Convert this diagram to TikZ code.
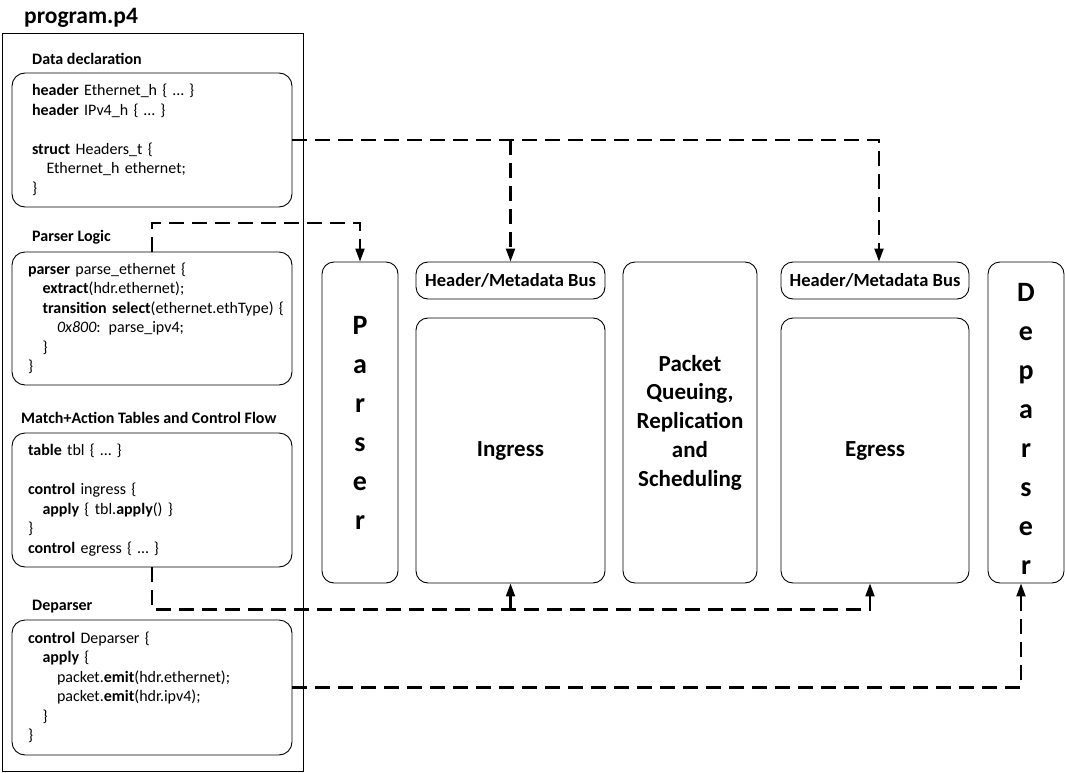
\documentclass[tikz,border=0pt]{standalone}
\usepackage{fontspec}
\setmainfont{Carlito}
\usetikzlibrary{arrows.meta}
\newcommand{\ind}{\hspace*{14.5pt}}
\begin{document}
\begin{tikzpicture}[
  x=1pt, y=-1pt,
  frame/.style={draw, line width=0.9pt, inner sep=0pt},
  head/.style={anchor=west, inner sep=0pt, font=\bfseries\fontsize{16}{19.5}\selectfont},
  box/.style={draw, line width=0.9pt, rounded corners=13pt, align=left, text width=248pt, inner xsep=16pt, minimum width=280pt, font=\fontsize{16}{19.5}\selectfont},
  stage/.style={draw, line width=0.9pt, rounded corners=12pt, align=center, inner sep=0pt, font=\bfseries\fontsize{23}{28.7}\selectfont},
  bus/.style={stage, font=\bfseries\fontsize{18.5}{22}\selectfont},
  vert/.style={stage, font=\bfseries\fontsize{28}{39}\selectfont},
  arr/.style={-{Triangle[length=13pt,width=9pt]}, line width=2.1pt, dash pattern=on 15pt off 8pt}
]
\useasboundingbox (0,0) rectangle (1065,773);
% program.p4 panel
\node[anchor=west, inner sep=0pt, font=\bfseries\fontsize{23.5}{28}\selectfont] (title) at (24,18) {program.p4};
\node[frame, minimum width=301pt, minimum height=738pt] (prog) at (152.5,402) {};
\node[head] (hdecl) at (32,59) {Data declaration};
\node[box, minimum height=134pt, inner xsep=20pt, text width=240pt] (decl) at (152,140) {%
  \textbf{header} Ethernet\_h \{ … \}\\
  \textbf{header} IPv4\_h \{ … \}\\[19.5pt]
  \textbf{struct} Headers\_t \{\\
  \ind Ethernet\_h ethernet;\\
  \}};
\node[head] (hlogic) at (32,237) {Parser Logic};
\node[box, minimum height=133pt] (logic) at (152,318.5) {%
  \textbf{parser} parse\_ethernet \{\\
  \ind\textbf{extract}(hdr.ethernet);\\
  \ind\mbox{\textbf{transition select}(ethernet.ethType) \{}\\
  \ind\ind\textit{0x800}: parse\_ipv4;\\
  \ind\}\\
  \}};
\node[head] (htables) at (21,418) {Match+Action Tables and Control Flow};
\node[box, minimum height=134pt] (tables) at (152,500) {%
  \textbf{table} tbl \{ … \}\\[19.5pt]
  \textbf{control} ingress \{\\
  \ind\textbf{apply} \{ tbl.\textbf{apply}() \}\\
  \}\\
  \textbf{control} egress \{ … \}};
\node[head] (hemit) at (32,607) {Deparser};
\node[box, minimum height=135pt] (emit) at (152,687.5) {%
  \textbf{control} Deparser \{\\
  \ind\textbf{apply} \{\\
  \ind\ind packet.\textbf{emit}(hdr.ethernet);\\
  \ind\ind packet.\textbf{emit}(hdr.ipv4);\\
  \ind\}\\
  \}};
% pipeline
\node[vert, minimum width=76pt, minimum height=321pt] (parser) at (360,422.5) {P\\a\\r\\s\\e\\r};
\node[bus, minimum width=189pt, minimum height=37pt] (busA) at (510.5,280.5) {Header/Metadata Bus};
\node[stage, minimum width=189pt, minimum height=265pt] (ingress) at (510.5,450.5) {Ingress};
\node[stage, minimum width=134pt, minimum height=321pt] (queue) at (690,422.5) {Packet\\Queuing,\\Replication\\and\\Scheduling};
\node[bus, minimum width=188pt, minimum height=37pt] (busB) at (875,280.5) {Header/Metadata Bus};
\node[stage, minimum width=188pt, minimum height=265pt] (egress) at (875,450.5) {Egress};
\node[vert, minimum width=76pt, minimum height=321pt] (deparser) at (1026,422.5) {\rule{0pt}{30pt}D\\e\\p\\a\\r\\s\\e\\r};
% dashed links
\draw[arr] (decl.east) -| ([xshift=4pt]busB.north);
\draw[arr] (decl.east -| busA.north) -- (busA.north);
\draw[arr] (logic.north) -- ++(0,-29) -| (parser.north);
\draw[arr] (tables.south) -- ++(0,42) coordinate (mabus) -| ([xshift=-5pt]egress.south);
\draw[arr] (mabus -| ingress.south) -- (ingress.south);
\draw[arr] (emit.east) -| ([xshift=-5pt]deparser.south);
\end{tikzpicture}
\end{document}
